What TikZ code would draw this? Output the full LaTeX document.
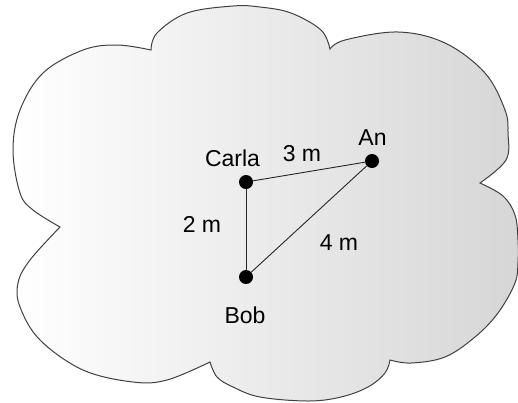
\documentclass[tikz,border=0pt]{standalone}
\usepackage{fontspec}
\setmainfont{Liberation Sans}
\begin{document}
\begin{tikzpicture}[x=1pt,y=-1pt,
  dot/.style={circle,fill=black,inner sep=0pt,minimum size=14pt},
  lbl/.style={anchor=base,inner sep=0pt,font=\fontsize{23}{27}\selectfont},
  link/.style={draw=black!85,line width=0.9pt},
  cloudline/.style={draw=black!75,line width=1pt,left color=white,right color=gray!32}]
\useasboundingbox (0,0) rectangle (518,402);
\path[cloudline]
 (151,50)
 -- plot[smooth,tension=0.6] coordinates{(151,50) (157,33) (187,13) (233,6) (260,7) (291,13) (321,30) (330,49)}
 -- plot[smooth,tension=0.6] coordinates{(330,49) (345,40) (398,32) (445,43) (485,73) (505,110) (508,133) (506,160) (480,183)}
 -- plot[smooth,tension=0.6] coordinates{(480,183) (503,196) (515,215) (518,240) (518,262) (515,283) (498,313) (475,337) (445,357) (411,363) (390,360)}
 -- plot[smooth,tension=0.6] coordinates{(390,360) (385,373) (368,387) (341,397) (308,401) (260,397) (233,387) (217,377) (210,362)}
 -- plot[smooth,tension=0.6] coordinates{(210,362) (167,380) (133,382) (83,370) (40,340) (20,307) (18,283) (30,260) (60,227)}
 -- plot[smooth,tension=0.6] coordinates{(60,227) (33,210) (20,193) (13,150) (20,110) (43,73) (83,50) (117,45) (151,50)}
 -- cycle;

\node[dot] (carla) at (246,182) {};
\node[dot] (an) at (372,161) {};
\node[dot] (bob) at (246,277) {};

\draw[link] (carla) -- (an);
\draw[link] (carla) -- (bob);
\draw[link] (bob) -- (an);

\node[lbl] (carlalbl) at (232.5,166.7) {Carla};
\node[lbl] (anlbl) at (372.5,145.7) {An};
\node[lbl] (boblbl) at (245,323.3) {Bob};
\node[lbl] (d3) at (302,161.7) {3 m};
\node[lbl] (d2) at (202,232.3) {2 m};
\node[lbl] (d4) at (339,250.7) {4 m};
\end{tikzpicture}
\end{document}
